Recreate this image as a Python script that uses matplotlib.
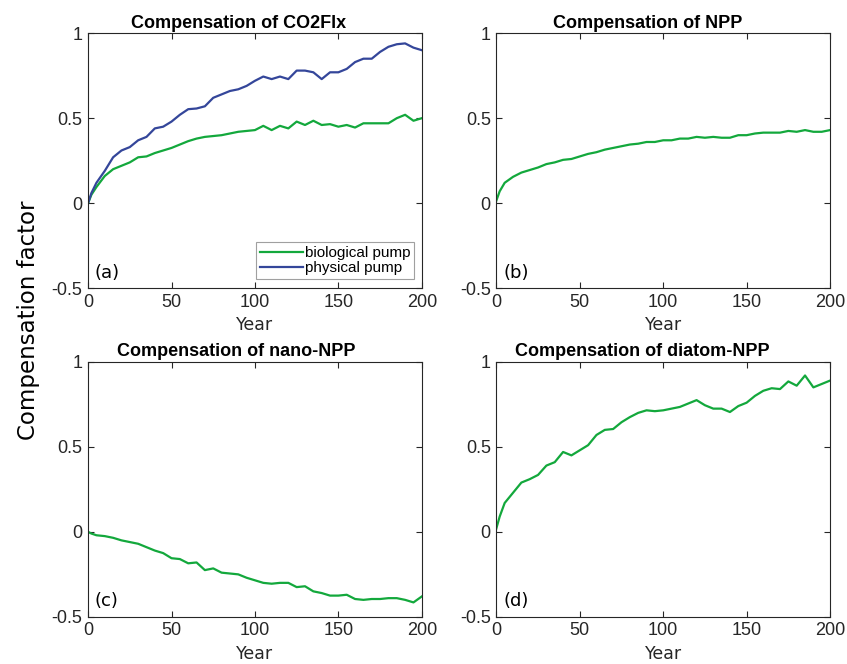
import numpy as np
import matplotlib
matplotlib.use("Agg")
import matplotlib.pyplot as plt

# values
years = [0, 2, 5, 10, 15, 20, 25, 30, 35, 40, 45, 50, 55, 60, 65, 70, 75, 80, 85, 90,
         95, 100, 105, 110, 115, 120, 125, 130, 135, 140, 145, 150, 155, 160, 165, 170,
         175, 180, 185, 190, 195, 200]

co2_bio = [0, 0.05, 0.095, 0.16, 0.2, 0.22, 0.24, 0.27, 0.275, 0.295, 0.31, 0.325, 0.345,
           0.365, 0.38, 0.39, 0.395, 0.40, 0.41, 0.42, 0.425, 0.43, 0.455, 0.43, 0.455,
           0.44, 0.48, 0.46, 0.485, 0.46, 0.465, 0.45, 0.46, 0.445, 0.47, 0.47, 0.47,
           0.47, 0.50, 0.52, 0.485, 0.50]
co2_phys = [0, 0.06, 0.12, 0.19, 0.27, 0.31, 0.33, 0.37, 0.39, 0.44, 0.45, 0.48, 0.52,
            0.553, 0.557, 0.57, 0.62, 0.64, 0.66, 0.67, 0.69, 0.72, 0.745, 0.73, 0.745,
            0.73, 0.78, 0.78, 0.77, 0.73, 0.77, 0.77, 0.79, 0.83, 0.85, 0.85, 0.89,
            0.92, 0.935, 0.94, 0.915, 0.90]
npp = [0.015, 0.07, 0.12, 0.155, 0.18, 0.195, 0.21, 0.23, 0.24, 0.255, 0.26, 0.275, 0.29,
       0.30, 0.315, 0.325, 0.335, 0.345, 0.35, 0.36, 0.36, 0.37, 0.37, 0.38, 0.38, 0.39,
       0.385, 0.39, 0.385, 0.385, 0.40, 0.40, 0.41, 0.415, 0.415, 0.415, 0.425, 0.42,
       0.43, 0.42, 0.42, 0.43]
nano = [0.0, -0.01, -0.02, -0.025, -0.035, -0.05, -0.06, -0.07, -0.09, -0.11, -0.125,
        -0.155, -0.16, -0.185, -0.18, -0.225, -0.215, -0.24, -0.245, -0.25, -0.27, -0.285,
        -0.30, -0.305, -0.30, -0.30, -0.325, -0.32, -0.35, -0.36, -0.375, -0.375, -0.37,
        -0.395, -0.40, -0.395, -0.395, -0.39, -0.39, -0.40, -0.415, -0.38]
diatom = [0.02, 0.09, 0.17, 0.23, 0.29, 0.31, 0.335, 0.39, 0.41, 0.47, 0.45, 0.48, 0.51,
          0.57, 0.60, 0.605, 0.645, 0.675, 0.70, 0.715, 0.71, 0.715, 0.725, 0.735, 0.755,
          0.775, 0.745, 0.725, 0.725, 0.705, 0.74, 0.76, 0.80, 0.83, 0.845, 0.84, 0.885,
          0.86, 0.92, 0.85, 0.87, 0.89]

titles = ["Compensation of CO2Flx", "Compensation of NPP",
          "Compensation of nano-NPP", "Compensation of diatom-NPP"]
letters = ["(a)", "(b)", "(c)", "(d)"]

green = "#13a83c"
blue = "#34469a"
grey = "#262626"

fig = plt.figure(figsize=(8.47, 6.64), dpi=100)
rects = [[0.104, 0.566, 0.394, 0.384], [0.586, 0.566, 0.394, 0.384],
         [0.104, 0.071, 0.394, 0.384], [0.586, 0.071, 0.394, 0.384]]
title_x = [0.45, 0.455, 0.443, 0.436]  # titles sit a bit left of centre
series = [None, npp, nano, diatom]

for i in range(4):
    ax = fig.add_axes(rects[i])
    if i == 0:
        ax.plot(years, co2_bio, color=green, lw=1.6, label="biological pump")
        ax.plot(years, co2_phys, color=blue, lw=1.6, label="physical pump")
        leg = ax.legend(loc="lower right", bbox_to_anchor=(0.977, 0.035),
                        prop={"family": "Liberation Sans", "size": 11},
                        handlelength=2.8, handletextpad=0.15, borderpad=0.25,
                        labelspacing=0.1, fancybox=False, framealpha=1,
                        borderaxespad=0)
        leg.get_frame().set_edgecolor("#a0a0a0")
        leg.get_frame().set_linewidth(0.8)
    else:
        ax.plot(years, series[i], color=green, lw=1.6)
    ax.set_xlim(0, 200)
    ax.set_ylim(-0.5, 1)
    ax.set_xticks([0, 50, 100, 150, 200])
    ax.set_yticks([-0.5, 0, 0.5, 1])
    ax.set_yticklabels(["-0.5", "0", "0.5", "1"])
    ax.tick_params(direction="in", top=True, right=True, length=4, width=0.8,
                   colors=grey, labelsize=13, pad=4)
    for lab in ax.get_xticklabels() + ax.get_yticklabels():
        lab.set_family("Liberation Sans")
    for sp in ax.spines.values():
        sp.set_color(grey)
        sp.set_linewidth(0.8)
    ax.set_title(titles[i], fontsize=13, fontweight="bold",
                 family="Liberation Sans", pad=4, x=title_x[i])
    ax.set_xlabel("Year", fontsize=12.5, color=grey, labelpad=4)
    ax.text(0.02, 0.025, letters[i], transform=ax.transAxes, fontsize=13,
            ha="left", va="bottom", color="black")

fig.text(0.034, 0.518, "Compensation factor", rotation=90, fontsize=16.5,
         ha="center", va="center")

fig.savefig("out.png", dpi=100)
